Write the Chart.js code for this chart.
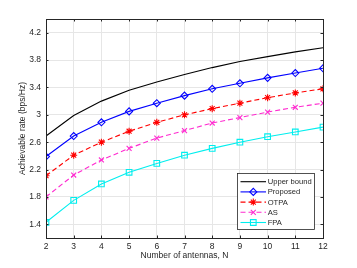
<!DOCTYPE html>
<html><head><meta charset="utf-8">
<script src="https://cdn.jsdelivr.net/npm/chart.js@4"></script>
<style>html,body{margin:0;padding:0;background:#fff;}canvas{display:block;}</style>
</head><body>
<canvas id="c" width="357" height="268"></canvas>
<script>
const antennas = [2,3,4,5,6,7,8,9,10,11,12];
const upperBound = [2.69, 2.99, 3.20, 3.36, 3.48, 3.59, 3.69, 3.78, 3.85, 3.92, 3.98];
const proposed   = [2.39, 2.69, 2.89, 3.05, 3.17, 3.28, 3.38, 3.46, 3.54, 3.61, 3.68];
const otpa       = [2.11, 2.41, 2.60, 2.76, 2.89, 3.00, 3.09, 3.17, 3.25, 3.32, 3.38];
const as         = [1.80, 2.12, 2.34, 2.51, 2.66, 2.77, 2.88, 2.96, 3.04, 3.11, 3.17];
const fpa        = [1.43, 1.75, 1.99, 2.16, 2.29, 2.41, 2.51, 2.60, 2.68, 2.75, 2.82];
const yTickValues = [1.4, 1.8, 2.2, 2.6, 3.0, 3.4, 3.8, 4.2];
const xTickValues = [2,3,4,5,6,7,8,9,10,11,12];
const seriesLabels = ['Upper bound','Proposed','OTPA','AS','FPA'];

const FONT = '"Liberation Sans", Arial, sans-serif';
const TXT = '#262626';
const pts = arr => arr.map((v,i)=>({x:antennas[i], y:v}));

function ds(label, data, color, style, dash, fill) {
  return {
    label, data: pts(data), borderColor: color, backgroundColor: fill ? color : '#ffffff',
    borderWidth: 1.1, borderDash: dash, pointStyle: style,
    pointRadius: style ? (style==='rect'?4:3.5) : 0, pointBorderWidth: 1.1,
    pointBorderColor: color, pointBackgroundColor: fill ? color : 'rgba(0,0,0,0)',
    tension: 0, fill: false
  };
}

const boxPlugin = {
  id: 'box',
  afterDatasetsDraw(chart) {
    const {ctx, chartArea: a, scales} = chart;
    ctx.save();
    ctx.strokeStyle = TXT; ctx.lineWidth = 1;
    ctx.strokeRect(Math.round(a.left)+0.5, Math.round(a.top)+0.5, Math.round(a.right-a.left), Math.round(a.bottom-a.top));
    const tl = 2.5;
    ctx.beginPath();
    scales.x.ticks.forEach(t => {
      const x = Math.round(scales.x.getPixelForValue(t.value))+0.5;
      ctx.moveTo(x, a.bottom); ctx.lineTo(x, a.bottom - tl);
      ctx.moveTo(x, a.top); ctx.lineTo(x, a.top + tl);
    });
    scales.y.ticks.forEach(t => {
      const y = Math.round(scales.y.getPixelForValue(t.value))+0.5;
      ctx.moveTo(a.left, y); ctx.lineTo(a.left + tl, y);
      ctx.moveTo(a.right, y); ctx.lineTo(a.right - tl, y);
    });
    ctx.stroke();

    // legend inside the axes (MATLAB style)
    const lx = 237.5, ly = 173.5, lw = 77, lh = 56;
    ctx.fillStyle = '#ffffff';
    ctx.fillRect(lx, ly, lw, lh);
    ctx.strokeStyle = TXT; ctx.lineWidth = 0.8;
    ctx.strokeRect(lx, ly, lw, lh);
    ctx.font = '7.6px ' + FONT;
    ctx.textBaseline = 'middle';
    ctx.textAlign = 'left';
    chart.data.datasets.forEach((d, i) => {
      const y = ly + 8.2 + i * 10.2;
      ctx.save();
      ctx.strokeStyle = d.borderColor; ctx.lineWidth = d.borderWidth;
      ctx.setLineDash(d.borderDash || []);
      ctx.beginPath(); ctx.moveTo(lx + 3, y); ctx.lineTo(lx + 28.5, y); ctx.stroke();
      ctx.restore();
      if (d.pointStyle) {
        ctx.save();
        ctx.strokeStyle = d.pointBorderColor; ctx.fillStyle = d.pointBackgroundColor;
        ctx.lineWidth = d.pointBorderWidth;
        Chart.helpers.drawPoint(ctx, {pointStyle: d.pointStyle, radius: d.pointRadius, borderWidth: d.pointBorderWidth, rotation: 0}, lx + 15.8, y);
        ctx.restore();
      }
      ctx.fillStyle = TXT;
      ctx.fillText(d.label, lx + 30.2, y + 0.5);
    });
    ctx.restore();
  }
};

new Chart(document.getElementById('c'), {
  type: 'line',
  data: {
    datasets: [
      ds(seriesLabels[0], upperBound, '#000000', false, [], false),
      ds(seriesLabels[1], proposed, '#0000ff', 'rectRot', [], false),
      ds(seriesLabels[2], otpa, '#ff0000', 'star', [5,3], true),
      ds(seriesLabels[3], as, '#ff2bd0', 'crossRot', [5,3], false),
      ds(seriesLabels[4], fpa, '#00eeee', 'rect', [], false)
    ]
  },
  options: {
    responsive: false, animation: false, devicePixelRatio: 1,
    layout: {padding: {top: 19, right: 34, left: 0, bottom: 0}},
    plugins: {legend: {display: false}, tooltip: {enabled: false}},
    scales: {
      x: {
        type: 'linear', min: 2, max: 12,
        afterBuildTicks: s => { s.ticks = xTickValues.map(v => ({value: v})); },
        afterFit: s => { s.height = 30; },
        ticks: {color: TXT, font: {family: FONT, size: 8.5}, padding: 4, maxRotation: 0},
        grid: {color: '#e6e6e6', drawTicks: false, lineWidth: 1},
        border: {display: true, color: TXT},
        title: {display: true, text: 'Number of antennas, N', color: TXT, font: {family: FONT, size: 8.5}, padding: {top: 0, bottom: 7}}
      },
      y: {
        type: 'linear', min: 1.2, max: 4.4,
        afterBuildTicks: s => { s.ticks = yTickValues.map(v => ({value: v})); },
        afterFit: s => { s.width = 46; },
        ticks: {color: TXT, font: {family: FONT, size: 8.5}, padding: 5, callback: v => String(Math.round(v*10)/10)},
        grid: {color: '#e6e6e6', drawTicks: false, lineWidth: 1},
        border: {display: true, color: TXT},
        title: {display: true, text: 'Achievable rate (bps/Hz)', color: TXT, font: {family: FONT, size: 8.5}, padding: {top: 18, bottom: 0}}
      }
    }
  },
  plugins: [boxPlugin]
});
</script>
</body></html>
